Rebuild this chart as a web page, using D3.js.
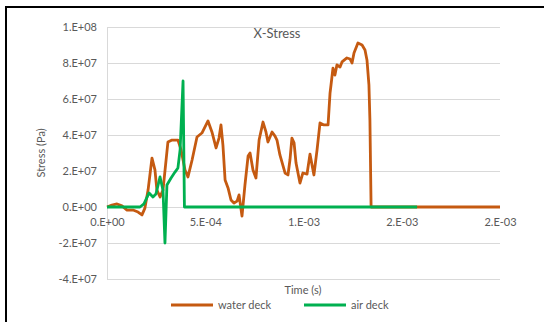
<!DOCTYPE html>
<html>
<head>
<meta charset="utf-8">
<script src="https://cdn.jsdelivr.net/npm/d3@7"></script>
<style>
  html, body { margin: 0; padding: 0; background: #fff; }
  svg { display: block; }
  text { font-family: Lato, "Open Sans", sans-serif; fill: #595959; }
</style>
</head>
<body>
<svg id="chart" width="544" height="322"></svg>
<script>
// Time (s) of each sample for the water deck run
const waterTime = [0, 2.5e-5, 5.1e-5, 7.6e-5, 1.02e-4, 1.32e-4, 1.58e-4, 1.78e-4, 1.93e-4, 2.09e-4,
  2.29e-4, 2.44e-4, 2.54e-4, 2.70e-4, 2.85e-4, 3.10e-4, 3.31e-4, 3.61e-4, 3.77e-4, 3.97e-4,
  4.12e-4, 4.33e-4, 4.58e-4, 4.83e-4, 5.14e-4, 5.34e-4, 5.55e-4, 5.70e-4, 5.80e-4, 5.90e-4,
  6.01e-4, 6.16e-4, 6.31e-4, 6.46e-4, 6.62e-4, 6.72e-4, 6.87e-4, 7.02e-4, 7.18e-4, 7.28e-4,
  7.43e-4, 7.58e-4, 7.74e-4, 7.94e-4, 8.09e-4, 8.19e-4, 8.40e-4, 8.55e-4, 8.65e-4, 8.80e-4,
  9.06e-4, 9.21e-4, 9.31e-4, 9.41e-4, 9.52e-4, 9.62e-4, 9.82e-4, 9.97e-4, 1.018e-3, 1.033e-3,
  1.053e-3, 1.069e-3, 1.084e-3, 1.104e-3, 1.125e-3, 1.135e-3, 1.140e-3, 1.150e-3, 1.160e-3, 1.170e-3,
  1.186e-3, 1.196e-3, 1.221e-3, 1.237e-3, 1.247e-3, 1.257e-3, 1.277e-3, 1.298e-3, 1.313e-3, 1.323e-3,
  1.333e-3, 1.338e-3, 1.344e-3, 2.0e-3];
// X-stress (Pa) for the water deck run
const waterStress = [0, 1.1e6, 1.7e6, 0.6e6, -1.7e6, -1.7e6, -2.8e6, -4.4e6, -0.6e6, 9.4e6,
  27.2e6, 20.6e6, 9.4e6, 5.6e6, 9.4e6, 36.1e6, 37.2e6, 37.2e6, 31.7e6, 20.6e6,
  16.7e6, 26.1e6, 38.9e6, 41.1e6, 47.8e6, 41.7e6, 32.8e6, 38.3e6, 45.6e6, 34.4e6,
  15.0e6, 10.6e6, 3.9e6, 2.2e6, 3.3e6, 6.7e6, -5.0e6, 12.2e6, 28.3e6, 30.0e6,
  20.6e6, 16.1e6, 37.2e6, 47.2e6, 41.7e6, 36.1e6, 41.7e6, 39.4e6, 37.2e6, 28.9e6,
  18.9e6, 17.8e6, 26.1e6, 38.3e6, 35.6e6, 24.4e6, 13.3e6, 18.9e6, 18.3e6, 29.4e6,
  17.8e6, 31.7e6, 46.7e6, 45.6e6, 45.6e6, 63.3e6, 67.8e6, 77.2e6, 73.3e6, 78.9e6,
  77.8e6, 80.6e6, 82.8e6, 82.2e6, 80.0e6, 85.6e6, 91.1e6, 90.0e6, 87.2e6, 81.7e6,
  67.8e6, 48.3e6, 0, 0];

// Time (s) and X-stress (Pa) for the air deck run
const airTime = [0, 1.68e-4, 1.88e-4, 2.14e-4, 2.34e-4, 2.49e-4, 2.70e-4, 2.85e-4, 2.95e-4, 3.05e-4,
  3.26e-4, 3.46e-4, 3.61e-4, 3.72e-4, 3.87e-4, 3.94e-4, 1.578e-3];
const airStress = [0, 0, 1.7e6, 7.8e6, 5.6e6, 7.2e6, 16.7e6, 9.4e6, -20e6, 12.2e6,
  16.1e6, 19.4e6, 21.7e6, 31.7e6, 70e6, 0, 0];

const seriesNames = ["water deck", "air deck"];
const seriesColors = ["#C55A11", "#00B050"];

const xTicks = [0, 5e-4, 1e-3, 1.5e-3, 2e-3];
const yTicks = [-4e7, -2e7, 0, 2e7, 4e7, 6e7, 8e7, 1e8];

// Spreadsheet-style "0.E+00" number format
function sciLabel(v) {
  if (v === 0) return "0.E+00";
  let e = Math.floor(Math.log10(Math.abs(v)) + 1e-9);
  let m = Math.round(v / Math.pow(10, e));
  if (Math.abs(m) >= 10) { m = m / 10; e += 1; }
  const sign = e < 0 ? "-" : "+";
  return m + ".E" + sign + String(Math.abs(e)).padStart(2, "0");
}

const svg = d3.select("#chart");
const plot = { left: 107, right: 500, top: 27, bottom: 279 };

const x = d3.scaleLinear().domain([0, 2e-3]).range([plot.left, plot.right]);
const y = d3.scaleLinear().domain([-4e7, 1e8]).range([plot.bottom, plot.top]);

// Outer frame (top and left edges)
svg.append("path")
  .attr("d", "M6,322V7H544")
  .attr("fill", "none")
  .attr("stroke", "#000")
  .attr("stroke-width", 2);

// Horizontal gridlines
svg.append("g")
  .selectAll("line")
  .data(yTicks)
  .join("line")
  .attr("x1", plot.left).attr("x2", plot.right)
  .attr("y1", d => Math.round(y(d)) + 0.5).attr("y2", d => Math.round(y(d)) + 0.5)
  .attr("stroke", "#d9d9d9").attr("stroke-width", 1);

// Vertical axis line
svg.append("line")
  .attr("x1", plot.left + 0.5).attr("x2", plot.left + 0.5)
  .attr("y1", plot.top).attr("y2", plot.bottom)
  .attr("stroke", "#d9d9d9");

// Y axis labels
const yAxis = d3.axisLeft(y).tickValues(yTicks).tickFormat(sciLabel).tickSize(0).tickPadding(10);
const gy = svg.append("g").attr("transform", `translate(${plot.left},0)`).call(yAxis);
gy.select(".domain").remove();
gy.selectAll("text").style("font-family", "Lato, sans-serif").style("font-size", "11px").attr("fill", "#595959");

// X axis labels, placed just below the zero line
const xAxis = d3.axisBottom(x).tickValues(xTicks).tickFormat(sciLabel).tickSize(0).tickPadding(11);
const gx = svg.append("g").attr("transform", `translate(0,${y(0)})`).call(xAxis);
gx.select(".domain").remove();
gx.selectAll("text").style("font-family", "Lato, sans-serif").style("font-size", "11px").attr("fill", "#595959");

// Series lines
const line = d3.line().x(d => x(d[0])).y(d => y(d[1]));
const series = [
  d3.zip(waterTime, waterStress),
  d3.zip(airTime, airStress)
];
series.forEach((pts, i) => {
  svg.append("path")
    .datum(pts)
    .attr("d", line)
    .attr("fill", "none")
    .attr("stroke", seriesColors[i])
    .attr("stroke-width", 2.8)
    .attr("stroke-linejoin", "round")
    .attr("stroke-linecap", "butt");
});

// Title
svg.append("text")
  .attr("x", 277).attr("y", 38)
  .attr("text-anchor", "middle")
  .style("font-size", "13px")
  .text("X-Stress");

// Axis titles
svg.append("text")
  .attr("transform", "translate(45,153) rotate(-90)")
  .attr("text-anchor", "middle")
  .style("font-size", "11px")
  .text("Stress (Pa)");

svg.append("text")
  .attr("x", 303).attr("y", 294)
  .attr("text-anchor", "middle")
  .style("font-size", "11px")
  .text("Time (s)");

// Legend
const legendX = [171, 304];
seriesNames.forEach((name, i) => {
  const g = svg.append("g").attr("transform", `translate(${legendX[i]},305)`);
  g.append("line").attr("x1", 0).attr("x2", 42).attr("y1", 0).attr("y2", 0)
    .attr("stroke", seriesColors[i]).attr("stroke-width", 2.8);
  g.append("text").attr("x", 47).attr("y", 4)
    .style("font-size", "11px")
    .text(name);
});
</script>
</body>
</html>
